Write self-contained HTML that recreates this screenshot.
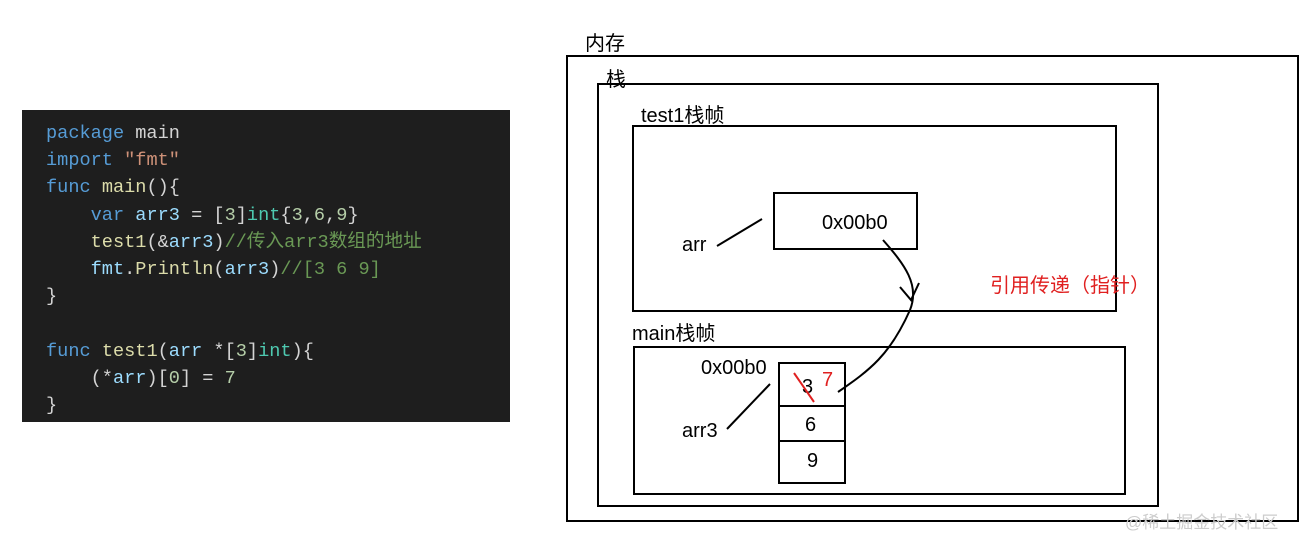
<!DOCTYPE html>
<html><head><meta charset="utf-8"><style>
body{margin:0;width:1304px;height:544px;background:#fff;position:relative;overflow:hidden;font-family:"Liberation Sans","Noto Sans CJK SC",sans-serif}
.code{position:absolute;left:22px;top:110px;width:488px;height:312px;background:#1e1e1e}
.code pre{margin:0;position:absolute;left:24px;top:10px;font-family:"Liberation Mono","Noto Sans CJK SC",monospace;font-size:18.6px;line-height:27.2px;color:#d4d4d4}
.k{color:#569cd6}.s{color:#ce9178}.f{color:#dcdcaa}.v{color:#9cdcfe}.t{color:#4ec9b0}.n{color:#b5cea8}.c{color:#6a9955}
.b{position:absolute;border:2px solid #000;box-sizing:border-box}
.l{position:absolute;font-size:20px;color:#000;white-space:nowrap}
</style></head><body>
<div class="code"><pre><span class="k">package</span> main
<span class="k">import</span> <span class="s">"fmt"</span>
<span class="k">func</span> <span class="f">main</span>(){
    <span class="k">var</span> <span class="v">arr3</span> = [<span class="n">3</span>]<span class="t">int</span>{<span class="n">3</span>,<span class="n">6</span>,<span class="n">9</span>}
    <span class="f">test1</span>(&amp;<span class="v">arr3</span>)<span class="c">//传入arr3数组的地址</span>
    <span class="v">fmt</span>.<span class="f">Println</span>(<span class="v">arr3</span>)<span class="c">//[3 6 9]</span>
}

<span class="k">func</span> <span class="f">test1</span>(<span class="v">arr</span> *[<span class="n">3</span>]<span class="t">int</span>){
    (*<span class="v">arr</span>)[<span class="n">0</span>] = <span class="n">7</span>
}</pre></div>

<div class="l" style="left:585px;top:27px">内存</div>
<div class="b" style="left:566px;top:55px;width:733px;height:467px"></div>
<div class="l" style="left:606px;top:63px">栈</div>
<div class="b" style="left:597px;top:83px;width:562px;height:424px"></div>
<div class="l" style="left:641px;top:99px">test1栈帧</div>
<div class="b" style="left:632px;top:125px;width:485px;height:187px"></div>
<div class="b" style="left:773px;top:192px;width:145px;height:58px"></div>
<div class="l" style="left:822px;top:212px">0x00b0</div>
<div class="l" style="left:682px;top:234px">arr</div>
<div class="l" style="left:990px;top:269px;color:#e02020">引用传递（指针）</div>
<div class="l" style="left:632px;top:317px">main栈帧</div>
<div class="b" style="left:633px;top:346px;width:493px;height:149px"></div>
<div class="l" style="left:701px;top:357px">0x00b0</div>
<div class="l" style="left:682px;top:420px">arr3</div>
<div class="b" style="left:778px;top:362px;width:68px;height:45px"></div>
<div class="b" style="left:778px;top:405px;width:68px;height:37px"></div>
<div class="b" style="left:778px;top:440px;width:68px;height:44px"></div>
<div class="l" style="left:802px;top:376px">3</div>
<div class="l" style="left:822px;top:369px;color:#e02020">7</div>
<div class="l" style="left:805px;top:414px">6</div>
<div class="l" style="left:807px;top:450px">9</div>
<div class="l" style="left:1125px;top:508px;color:#ccc;font-size:17px">@稀土掘金技术社区</div>
<svg width="1304" height="544" style="position:absolute;left:0;top:0" fill="none" stroke="#000" stroke-width="2">
<line x1="717" y1="246" x2="762" y2="219"/>
<line x1="727" y1="429" x2="770" y2="384"/>
<path d="M883 240 C905 265 920 285 910 310 C890 355 870 370 838 392"/>
<path d="M900 287 L911 300 L919 283"/>
<line x1="794" y1="373" x2="814" y2="402" stroke="#e02020"/>
</svg>
</body></html>
